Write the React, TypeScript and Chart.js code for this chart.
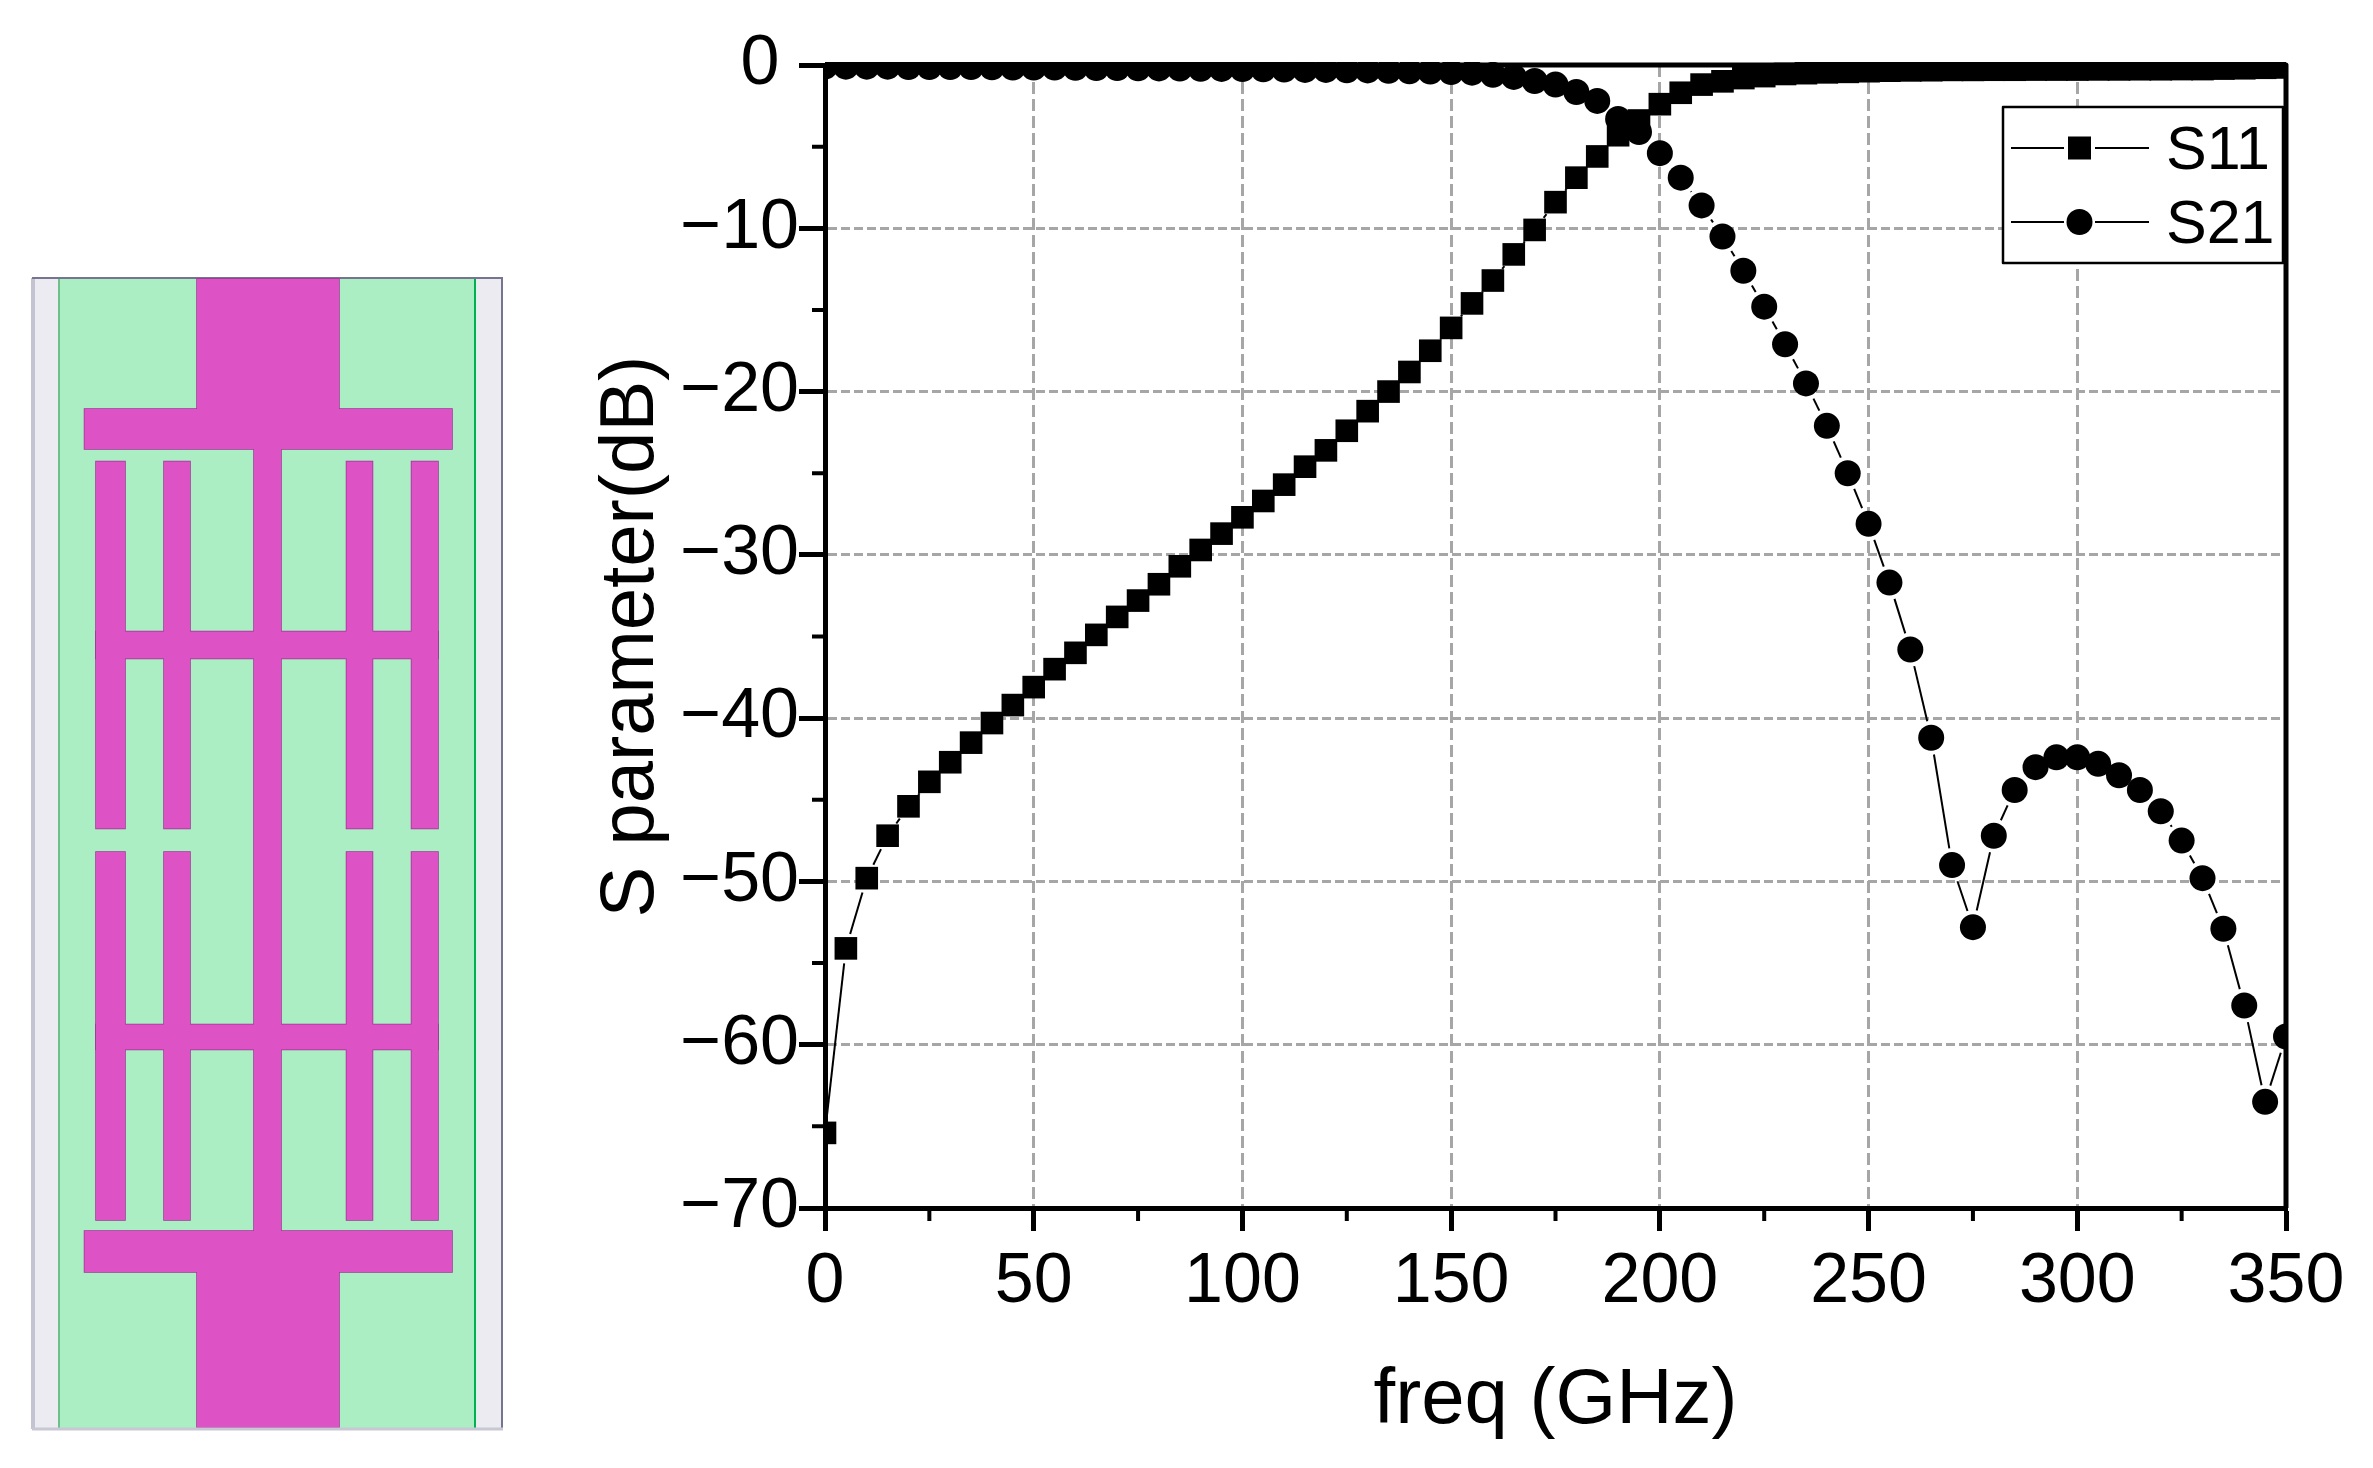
import React, { useEffect, useRef } from "react";
import { Chart, registerables } from "chart.js";

Chart.register(...registerables);

const freq = [0,5,10,15,20,25,30,35,40,45,50,55,60,65,70,75,80,85,90,95,100,105,110,115,120,125,130,135,140,145,150,155,160,165,170,175,180,185,190,195,200,205,210,215,220,225,230,235,240,245,250,255,260,265,270,275,280,285,290,295,300,305,310,315,320,325,330,335,340,345,350];
const s11 = [-65.4,-54.1,-49.8,-47.2,-45.4,-43.9,-42.7,-41.5,-40.3,-39.2,-38.1,-37.0,-36.0,-34.9,-33.8,-32.8,-31.8,-30.7,-29.7,-28.7,-27.7,-26.7,-25.7,-24.6,-23.6,-22.4,-21.2,-20.0,-18.8,-17.5,-16.1,-14.6,-13.2,-11.6,-10.1,-8.4,-6.9,-5.6,-4.3,-3.4,-2.4,-1.7,-1.2,-1.0,-0.8,-0.68,-0.55,-0.5,-0.45,-0.42,-0.38,-0.35,-0.33,-0.32,-0.3,-0.3,-0.29,-0.29,-0.28,-0.28,-0.28,-0.27,-0.27,-0.26,-0.26,-0.25,-0.25,-0.22,-0.2,-0.17,-0.15];
const s21 = [-0.1,-0.1,-0.1,-0.1,-0.12,-0.12,-0.13,-0.13,-0.14,-0.15,-0.15,-0.16,-0.17,-0.18,-0.19,-0.2,-0.21,-0.22,-0.23,-0.24,-0.25,-0.26,-0.28,-0.3,-0.3,-0.32,-0.33,-0.35,-0.38,-0.4,-0.43,-0.47,-0.6,-0.73,-0.98,-1.2,-1.65,-2.2,-3.3,-4.1,-5.4,-6.9,-8.6,-10.5,-12.6,-14.8,-17.1,-19.5,-22.1,-25.0,-28.1,-31.7,-35.8,-41.2,-49.0,-52.8,-47.2,-44.4,-43.0,-42.4,-42.4,-42.8,-43.5,-44.4,-45.7,-47.5,-49.8,-52.9,-57.6,-63.5,-59.5];
const xMinorTicks = [25,75,125,175,225,275,325];
const yMinorTicks = [-5,-15,-25,-35,-45,-55,-65];
const xLabel = "freq (GHz)";
const yLabel = "S parameter(dB)";
const seriesNames = ["S11", "S21"];

const FONT = '"Liberation Sans", Arial, sans-serif';

const gapped = (gap: number) => (ctx: any) => {
  const dx = ctx.p1.x - ctx.p0.x;
  const dy = ctx.p1.y - ctx.p0.y;
  const len = Math.hypot(dx, dy);
  if (len <= 2 * gap + 0.5) return [0, 100000];
  return [0, gap, len - 2 * gap, gap + 1000];
};

const framePlugin = {
  id: "frameAndLegend",
  afterDraw(chart: any) {
    const { ctx, chartArea: a, scales } = chart;
    ctx.save();
    ctx.strokeStyle = "#000";
    ctx.fillStyle = "#000";
    ctx.lineWidth = 5;
    ctx.lineJoin = "round";
    ctx.beginPath();
    ctx.moveTo(a.left, a.top);
    ctx.lineTo(a.right, a.top);
    ctx.lineTo(a.right, a.bottom);
    ctx.stroke();
    ctx.lineWidth = 4;
    ctx.beginPath();
    for (const v of xMinorTicks) {
      const x = scales.x.getPixelForValue(v);
      ctx.moveTo(x, a.bottom);
      ctx.lineTo(x, a.bottom + 13);
    }
    for (const v of yMinorTicks) {
      const y = scales.y.getPixelForValue(v);
      ctx.moveTo(a.left, y);
      ctx.lineTo(a.left - 13, y);
    }
    ctx.stroke();

    // legend
    const box = { l: 2003, t: 107, r: 2283, b: 263 };
    ctx.fillStyle = "#fff";
    ctx.fillRect(box.l, box.t, box.r - box.l, box.b - box.t);
    ctx.lineWidth = 2.5;
    ctx.strokeRect(box.l, box.t, box.r - box.l, box.b - box.t);
    ctx.fillStyle = "#000";
    ctx.font = `61px ${FONT}`;
    ctx.textAlign = "left";
    ctx.textBaseline = "alphabetic";
    chart.data.datasets.forEach((ds: any, i: number) => {
      const y = i === 0 ? 148 : 222;
      ctx.lineWidth = 2;
      ctx.beginPath();
      ctx.moveTo(2011, y);
      ctx.lineTo(2064, y);
      ctx.moveTo(2095, y);
      ctx.lineTo(2149, y);
      ctx.stroke();
      if (i === 0) ctx.fillRect(2068, y - 11.5, 23, 23);
      else {
        ctx.beginPath();
        ctx.arc(2079.5, y, 13, 0, Math.PI * 2);
        ctx.fill();
      }
      ctx.fillText(ds.label, 2166, y + 21);
    });
    ctx.restore();
  },
};

const feed = "#dd52c4";
const edge = "#a03096";
const metal: [number, number, number, number][] = [
  [197, 279, 142, 130],
  [84.5, 409, 367.5, 40],
  [254, 449, 27, 782],
  [96, 461.5, 29, 367],
  [164, 461.5, 26, 367],
  [346.5, 461.5, 26, 367],
  [411.5, 461.5, 26.5, 367],
  [96, 631.5, 342, 27],
  [96, 852, 29, 368],
  [164, 852, 26, 368],
  [346.5, 852, 26, 368],
  [411.5, 852, 26.5, 368],
  [96, 1024.5, 342, 25],
  [84.5, 1231, 367.5, 41],
  [197, 1272, 142, 155.5],
];

function Schematic() {
  return (
    <svg width={2373} height={1468} style={{ position: "absolute", left: 0, top: 0 }}>
      <rect x={32} y={278} width={471} height={1151} fill="#ebebf1" />
      <rect x={58} y={279} width={418} height={1149} fill="#abeec4" />
      <line x1={59} y1={279} x2={59} y2={1428} stroke="#6dbf8b" strokeWidth={2} />
      <line x1={475} y1={279} x2={475} y2={1428} stroke="#00b050" strokeWidth={2} />
      <line x1={33} y1={278} x2={33} y2={1429} stroke="#c4c4d0" strokeWidth={4} />
      <line x1={502} y1={278} x2={502} y2={1429} stroke="#75758f" strokeWidth={2} />
      <line x1={32} y1={278} x2={503} y2={278} stroke="#75758f" strokeWidth={2} />
      {metal.map((r, i) => (
        <rect key={"e" + i} x={r[0]} y={r[1]} width={r[2]} height={r[3]} fill={edge} stroke={edge} strokeWidth={1.5} />
      ))}
      {metal.map((r, i) => (
        <rect key={"f" + i} x={r[0]} y={r[1]} width={r[2]} height={r[3]} fill={feed} />
      ))}
      <line x1={32} y1={1429} x2={503} y2={1429} stroke="#c8c8d4" strokeWidth={3} />
    </svg>
  );
}

export default function App() {
  const ref = useRef<HTMLCanvasElement>(null);
  useEffect(() => {
    const chart = new Chart(ref.current!, {
      type: "line",
      data: {
        datasets: [
          {
            label: seriesNames[0],
            data: freq.map((f, i) => ({ x: f, y: s11[i] })),
            borderColor: "#000",
            backgroundColor: "#000",
            borderWidth: 2,
            pointStyle: "rect",
            pointRadius: 16,
            pointBorderWidth: 0,
            pointBackgroundColor: "#000",
            clip: { left: 0, top: 3, right: 0, bottom: 0 },
            segment: { borderDash: gapped(15) },
          },
          {
            label: seriesNames[1],
            data: freq.map((f, i) => ({ x: f, y: s21[i] })),
            borderColor: "#000",
            backgroundColor: "#000",
            borderWidth: 2,
            pointStyle: "circle",
            pointRadius: 13,
            pointBorderWidth: 0,
            pointBackgroundColor: "#000",
            clip: { left: 0, top: 3, right: 0, bottom: 0 },
            segment: { borderDash: gapped(17) },
          },
        ],
      } as any,
      options: {
        responsive: false,
        animation: false,
        events: [],
        layout: { padding: { top: 65, right: 87, left: 0, bottom: 0 } },
        plugins: { legend: { display: false }, tooltip: { enabled: false }, title: { display: false } },
        scales: {
          x: {
            type: "linear",
            min: 0,
            max: 350,
            afterFit: (s: any) => {
              s.height = 260;
            },
            ticks: {
              stepSize: 50,
              autoSkip: false,
              maxRotation: 0,
              color: "#000",
              padding: 10,
              font: { family: FONT, size: 70 },
            },
            grid: { color: "#a6a6a6", lineWidth: 3, tickColor: "#000", tickWidth: 5, tickLength: 23 },
            border: { display: true, color: "#000", width: 5, dash: [12, 5] },
            title: {
              display: true,
              text: xLabel,
              color: "#000",
              font: { family: FONT, size: 78 },
              padding: { top: 0, bottom: 20 },
            },
          },
          y: {
            type: "linear",
            min: -70,
            max: 0,
            afterFit: (s: any) => {
              s.width = 825;
            },
            ticks: {
              stepSize: 10,
              autoSkip: false,
              color: "#000",
              padding: 0,
              font: { family: FONT, size: 70 },
              callback: (v: any) => (v === 0 ? "0 " : `\u2212${Math.abs(v)}`),
            },
            grid: { color: "#a6a6a6", lineWidth: 3, tickColor: "#000", tickWidth: 5, tickLength: 26 },
            border: { display: true, color: "#000", width: 5, dash: [9, 4] },
            title: {
              display: true,
              text: yLabel,
              color: "#000",
              font: { family: FONT, size: 76 },
              padding: { top: 586, bottom: 0 },
            },
          },
        },
      } as any,
      plugins: [framePlugin],
    });
    return () => chart.destroy();
  }, []);
  return (
    <div style={{ position: "absolute", left: 0, top: 0, width: 2373, height: 1468, background: "#fff" }}>
      <Schematic />
      <canvas ref={ref} width={2373} height={1468} style={{ position: "absolute", left: 0, top: 0, display: "block" }} />
    </div>
  );
}
